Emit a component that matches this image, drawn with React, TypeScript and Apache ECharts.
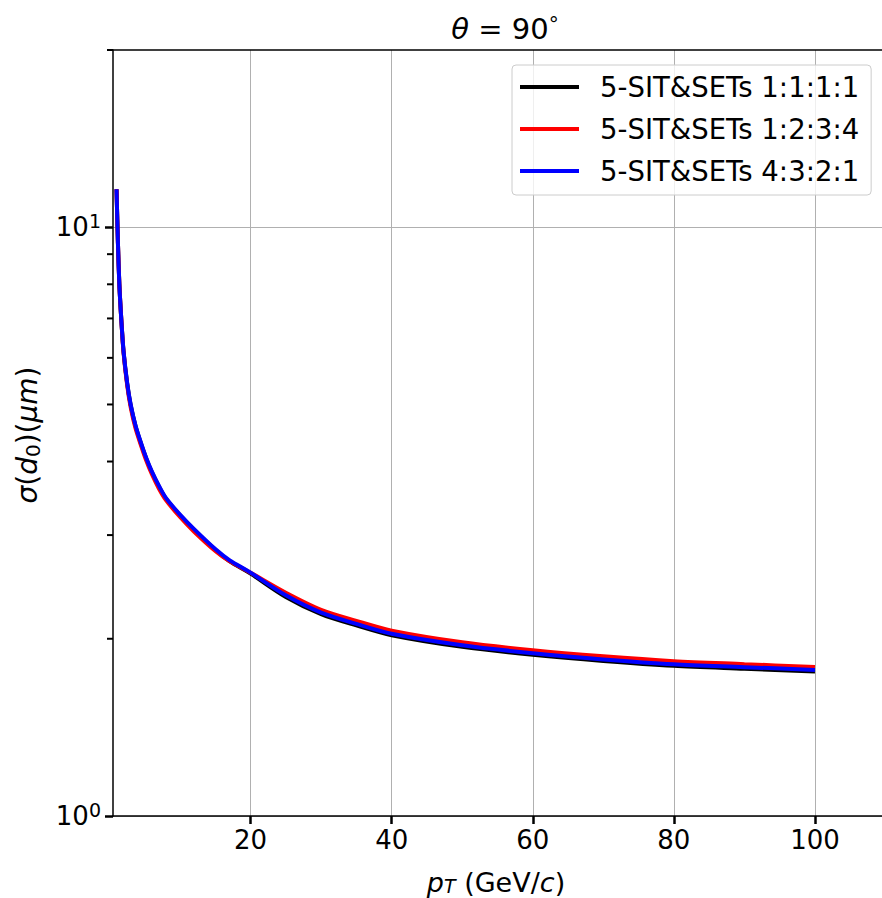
import React, { useEffect, useRef } from "react";
import * as echarts from "echarts";

const pT = [1, 1.2, 1.4, 1.7, 2, 2.5, 3, 3.7, 4.5, 5.2, 6, 7, 8, 10, 12, 15, 17, 20, 25, 30, 35, 40, 50, 60, 70, 80, 90, 100];
const black = [11.6, 9.4, 8.0, 6.9, 6.14, 5.44, 4.99, 4.59, 4.28, 4.05, 3.84, 3.63, 3.46, 3.24, 3.06, 2.83, 2.71, 2.58, 2.355, 2.202, 2.107, 2.028, 1.938, 1.879, 1.834, 1.799, 1.779, 1.76];
const red = [11.6, 9.4, 8.0, 6.9, 6.12, 5.4, 4.95, 4.55, 4.25, 4.02, 3.81, 3.6, 3.44, 3.22, 3.04, 2.82, 2.71, 2.59, 2.395, 2.24, 2.145, 2.065, 1.973, 1.912, 1.867, 1.832, 1.811, 1.791];
const blue = [11.6, 9.4, 8.0, 6.9, 6.15, 5.45, 5.0, 4.6, 4.29, 4.06, 3.85, 3.64, 3.47, 3.25, 3.07, 2.84, 2.72, 2.59, 2.37, 2.215, 2.12, 2.04, 1.95, 1.89, 1.845, 1.81, 1.79, 1.77];

const seriesNames = ["5-SIT&SETs 1:1:1:1", "5-SIT&SETs 1:2:3:4", "5-SIT&SETs 4:3:2:1"];
const seriesColors = ["#000000", "#ff0000", "#0000ff"];
const xTicks = [20, 40, 60, 80, 100];
const yMajor = [1, 10];
const yMinor = [2, 3, 4, 5, 6, 7, 8, 9, 20];

const FONT = "DejaVu Sans";
const X_MIN = 0.5;
const X_MAX = 109.5;
const Y_MAX = 20;

export default function App() {
  const ref = useRef<HTMLDivElement>(null);
  useEffect(() => {
    if (!ref.current) return;
    const chart = echarts.init(ref.current, null, { renderer: "svg" });
    const all = [black, red, blue];
    const option: any = {
      animation: false,
      backgroundColor: "#ffffff",
      textStyle: { fontFamily: FONT },
      title: {
        text: "{i|θ} = 90{s|°}",
        left: 500,
        textAlign: "center",
        top: 9,
        textStyle: {
          fontFamily: FONT,
          fontSize: 29,
          fontWeight: "normal",
          color: "#000",
          rich: {
            i: { fontFamily: FONT, fontSize: 29, fontStyle: "italic", color: "#000" },
            s: { fontFamily: FONT, fontSize: 20, color: "#000", verticalAlign: "top", padding: [0, 0, 9, 0] },
          },
        },
      },
      graphic: [
        {
          type: "text",
          x: 27,
          y: 435,
          rotation: Math.PI / 2,
          style: {
            text: "{i|σ}({i|d}{sub|0})({i|μm})",
            fontFamily: FONT,
            fontSize: 28,
            fill: "#000",
            align: "center",
            verticalAlign: "middle",
            rich: {
              i: { fontFamily: FONT, fontSize: 28, fontStyle: "italic", fill: "#000" },
              sub: { fontFamily: FONT, fontSize: 20, fill: "#000", verticalAlign: "bottom", padding: [11, 0, 0, 0] },
            },
          },
        },
        {
          type: "text",
          x: 496,
          y: 882,
          style: {
            text: "{i|p}{sub|T} (GeV/{i|c})",
            fontFamily: FONT,
            fontSize: 27,
            fill: "#000",
            align: "center",
            verticalAlign: "middle",
            rich: {
              i: { fontFamily: FONT, fontSize: 27, fontStyle: "italic", fill: "#000" },
              sub: { fontFamily: FONT, fontSize: 19, fontStyle: "italic", fill: "#000", verticalAlign: "bottom", padding: [6, 0, 0, 0] },
            },
          },
        },
      ],
      legend: {
        orient: "vertical",
        left: 512,
        top: 65,
        padding: [7, 12, 9, 8],
        itemGap: 12,
        itemWidth: 59,
        itemHeight: 4,
        icon: "rect",
        backgroundColor: "rgba(255,255,255,0.8)",
        borderColor: "#cccccc",
        borderWidth: 1,
        borderRadius: 4,
        textStyle: { fontFamily: FONT, fontSize: 27.5, color: "#000", lineHeight: 30, padding: [0, 0, 0, 16] },
        data: seriesNames,
      },
      grid: { left: 113, top: 50, right: 0, bottom: 82, containLabel: false, outerBoundsMode: "none" },
      xAxis: [
        {
          type: "value",
          min: X_MIN,
          max: X_MAX,
          axisLine: { show: true, onZero: false, lineStyle: { color: "#000", width: 1.5 } },
          axisTick: { show: true, inside: false, length: 8, customValues: xTicks, lineStyle: { color: "#000", width: 2.5 } },
          axisLabel: { customValues: xTicks, fontFamily: FONT, fontSize: 26, color: "#000", margin: 11 },
          splitLine: { show: true, lineStyle: { color: "#b0b0b0", width: 1 } },
        },
        {
          type: "value",
          position: "top",
          min: X_MIN,
          max: X_MAX,
          axisLine: { show: true, onZero: false, lineStyle: { color: "#000", width: 1.5 } },
          axisTick: { show: false },
          axisLabel: { show: false },
          splitLine: { show: false },
        },
      ],
      yAxis: [
        {
          type: "log",
          logBase: 10,
          min: 1,
          max: Y_MAX,
          axisLine: { show: true, lineStyle: { color: "#000", width: 1.5 } },
          axisTick: { show: true, length: 8, customValues: yMajor, lineStyle: { color: "#000", width: 2.5 } },
          axisLabel: {
            customValues: yMajor,
            margin: 12,
            formatter: (v: number) => (Math.abs(v - 1) < 1e-6 ? "{b|10}{s|0}" : "{b|10}{s|1}"),
            rich: {
              b: { fontFamily: FONT, fontSize: 26, color: "#000" },
              s: { fontFamily: FONT, fontSize: 19, color: "#000", verticalAlign: "top", padding: [0, 0, 12, 0] },
            },
          },
          splitLine: { show: true, lineStyle: { color: "#b0b0b0", width: 1 } },
          minorTick: { show: false },
        },
      ],
      series: [
        ...all.map((arr, k) => ({
          name: seriesNames[k],
          type: "line",
          xAxisIndex: 0,
          yAxisIndex: 0,
          showSymbol: false,
          symbol: "none",
          smooth: 0.3,
          color: seriesColors[k],
          lineStyle: { color: seriesColors[k], width: 4 },
          data: pT.map((x, i) => [x, arr[i]]),
          z: 2 + k,
        })),
        {
          name: "minorTicks",
          type: "custom",
          xAxisIndex: 0,
          yAxisIndex: 0,
          clip: false,
          silent: true,
          z: 10,
          data: yMinor.map((v) => [X_MIN, v]),
          renderItem: (params: any, api: any) => {
            const p = api.coord([api.value(0), api.value(1)]);
            return {
              type: "line",
              shape: { x1: p[0] - 6, y1: p[1], x2: p[0], y2: p[1] },
              style: { stroke: "#000", lineWidth: 2 },
            };
          },
        },
      ],
    };
    chart.setOption(option);
    return () => chart.dispose();
  }, []);
  return <div ref={ref} style={{ position: "absolute", left: 0, top: 0, width: 882, height: 898 }} />;
}
